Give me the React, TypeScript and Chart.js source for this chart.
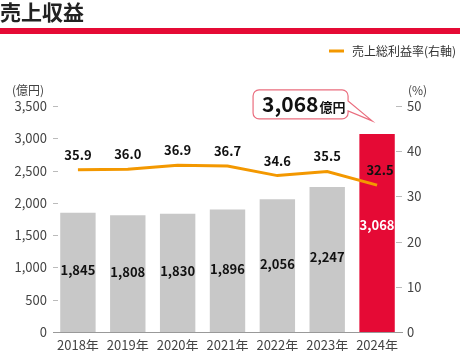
import React, { useEffect, useRef } from "react";
import { Chart, registerables } from "chart.js";

Chart.register(...registerables);

const categories = ["2018年", "2019年", "2020年", "2021年", "2022年", "2023年", "2024年"];
const revenue = [1845, 1808, 1830, 1896, 2056, 2247, 3068];
const grossMargin = [35.9, 36.0, 36.9, 36.7, 34.6, 35.5, 32.5];
const titleText = "売上収益";
const legendText = "売上総利益率(右軸)";
const leftUnit = "(億円)";
const rightUnit = "(%)";

const FONT = '"Noto Sans CJK JP", "Noto Sans", sans-serif';
const RED = "#e50a35";
const GRAY = "#c8c8c8";
const ORANGE = "#f39800";

const fmt = (v: number) => v.toLocaleString("en-US");

const decor = {
  id: "decor",
  afterDatasetsDraw(chart: any) {
    const ctx = chart.ctx;
    const area = chart.chartArea;
    ctx.save();
    // title
    ctx.fillStyle = "#222";
    ctx.font = `bold 21px ${FONT}`;
    ctx.textBaseline = "middle";
    ctx.textAlign = "left";
    ctx.fillText(titleText, 0, 12);
    // red rule
    ctx.fillStyle = RED;
    ctx.fillRect(0, 28, chart.width, 6);
    // legend
    ctx.strokeStyle = ORANGE;
    ctx.lineWidth = 3;
    ctx.beginPath();
    ctx.moveTo(329, 51);
    ctx.lineTo(344, 51);
    ctx.stroke();
    ctx.fillStyle = "#333";
    ctx.font = `12px ${FONT}`;
    ctx.fillText(legendText, 352, 51);
    // units
    ctx.fillStyle = "#444";
    ctx.fillText(leftUnit, 12, 90);
    ctx.fillText(rightUnit, 408, 90);
    // tick dashes
    ctx.strokeStyle = "#bbb";
    ctx.lineWidth = 1;
    const yl = chart.scales.y;
    const yr = chart.scales.y1;
    yl.ticks.forEach((t: any) => {
      if (t.value === 0) return;
      const py = Math.round(yl.getPixelForValue(t.value)) + 0.5;
      ctx.beginPath();
      ctx.moveTo(area.left, py);
      ctx.lineTo(area.left + 5, py);
      ctx.stroke();
    });
    yr.ticks.forEach((t: any) => {
      if (t.value === 0) return;
      const py = Math.round(yr.getPixelForValue(t.value)) + 0.5;
      ctx.beginPath();
      ctx.moveTo(area.right - 6, py);
      ctx.lineTo(area.right, py);
      ctx.stroke();
    });
    // bar labels
    const barMeta = chart.getDatasetMeta(0);
    ctx.font = `bold 13px ${FONT}`;
    ctx.textAlign = "center";
    barMeta.data.forEach((bar: any, i: number) => {
      const mid = (bar.y + bar.base) / 2;
      const last = i === revenue.length - 1;
      ctx.fillStyle = last ? "#fff" : "#111";
      ctx.fillText(fmt(revenue[i]), bar.x, mid - (last ? 8 : 2));
    });
    // line labels
    const lineMeta = chart.getDatasetMeta(1);
    ctx.fillStyle = "#111";
    lineMeta.data.forEach((pt: any, i: number) => {
      ctx.fillText(grossMargin[i].toFixed(1), pt.x + (i === grossMargin.length - 1 ? 3 : 0), pt.y - 15);
    });
    // callout
    const lastBar = barMeta.data[revenue.length - 1];
    const bx = lastBar.x;
    const by = lastBar.y;
    const L = bx - 124, R = bx - 29, T = by - 44, B = by - 15, r = 6;
    const tipX = bx - 5, tipY = by - 13;
    ctx.beginPath();
    ctx.moveTo(L + r, T);
    ctx.lineTo(R - r, T);
    ctx.arcTo(R, T, R, T + r, r);
    ctx.lineTo(R, T + 11);
    ctx.lineTo(tipX, tipY);
    ctx.lineTo(R, B - 8);
    ctx.lineTo(R, B - r);
    ctx.arcTo(R, B, R - r, B, r);
    ctx.lineTo(L + r, B);
    ctx.arcTo(L, B, L, B - r, r);
    ctx.lineTo(L, T + r);
    ctx.arcTo(L, T, L + r, T, r);
    ctx.closePath();
    ctx.fillStyle = "#fff";
    ctx.fill();
    ctx.strokeStyle = "#ea6d7e";
    ctx.lineWidth = 1.2;
    ctx.stroke();
    ctx.fillStyle = "#111";
    ctx.textAlign = "left";
    ctx.textBaseline = "alphabetic";
    ctx.font = `bold 21px ${FONT}`;
    const big = fmt(revenue[revenue.length - 1]);
    ctx.fillText(big, L + 9, B - 7);
    const w = ctx.measureText(big).width;
    ctx.font = `bold 13px ${FONT}`;
    ctx.fillText("億円", L + 9 + w + 1, B - 7);
    ctx.restore();
  },
};

export default function App() {
  const ref = useRef<HTMLCanvasElement>(null);
  useEffect(() => {
    if (!ref.current) return;
    const chart = new Chart(ref.current, {
      type: "bar",
      data: {
        labels: categories,
        datasets: [
          {
            type: "bar",
            data: revenue,
            backgroundColor: revenue.map((_, i) => (i === revenue.length - 1 ? RED : GRAY)),
            barPercentage: 0.71,
            categoryPercentage: 1,
            yAxisID: "y",
            order: 2,
          },
          {
            type: "line",
            data: grossMargin,
            borderColor: ORANGE,
            borderWidth: 3,
            pointRadius: 0,
            tension: 0,
            yAxisID: "y1",
            order: 1,
          } as any,
        ],
      },
      options: {
        animation: false,
        responsive: false,
        layout: { padding: { top: 106, left: 0, right: 0, bottom: 0 } },
        plugins: { legend: { display: false }, tooltip: { enabled: false } },
        scales: {
          x: {
            offset: true,
            grid: { display: false, drawTicks: false },
            border: { display: true, color: "#999" },
            ticks: { color: "#444", font: { family: FONT, size: 13, lineHeight: 1 }, padding: 7 },
            afterFit: (s: any) => { s.height = 19; },
          },
          y: {
            position: "left",
            min: 0,
            max: 3500,
            grid: { display: false, drawTicks: false },
            border: { display: false },
            ticks: { stepSize: 500, color: "#444", font: { family: FONT, size: 13 }, padding: 6, callback: (v: any) => fmt(Number(v)) },
            afterFit: (s: any) => { s.width = 53; },
          },
          y1: {
            position: "right",
            min: 0,
            max: 50,
            grid: { display: false, drawTicks: false },
            border: { display: false },
            ticks: { stepSize: 10, color: "#444", font: { family: FONT, size: 13 }, padding: 5 },
            afterFit: (s: any) => { s.width = 58; },
          },
        },
      },
      plugins: [decor],
    });
    return () => chart.destroy();
  }, []);
  return (
    <div style={{ position: "fixed", left: 0, top: 0, width: 460, height: 351, background: "#fff" }}>
      <canvas ref={ref} width={460} height={351} />
    </div>
  );
}
